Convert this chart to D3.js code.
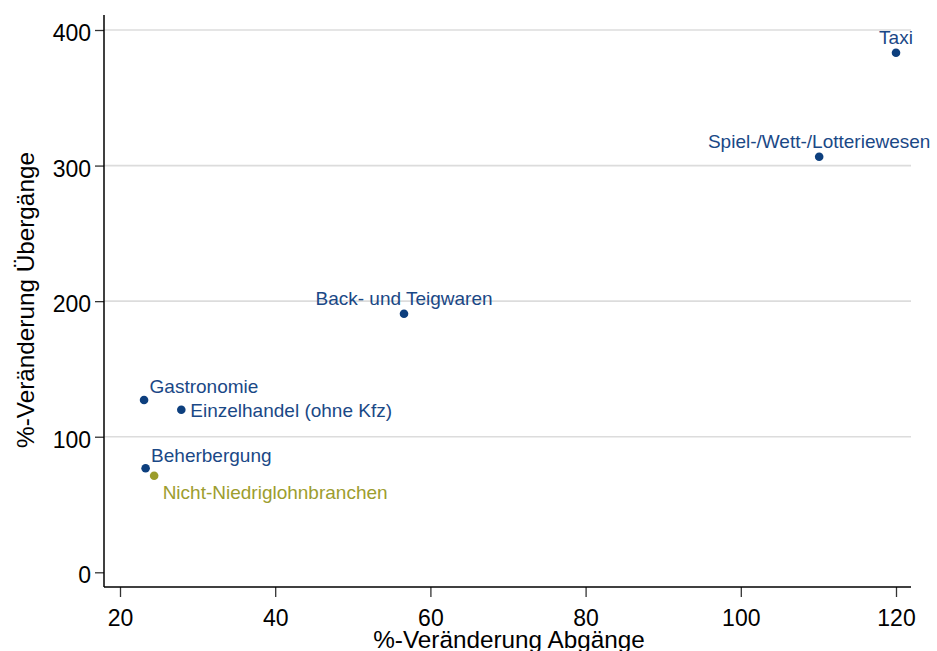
<!DOCTYPE html>
<html>
<head>
<meta charset="utf-8">
<script src="https://cdn.jsdelivr.net/npm/d3@7"></script>
<style>
  html, body { margin: 0; padding: 0; background: #fff; }
  svg { display: block; font-family: "Liberation Sans", Arial, sans-serif; }
</style>
</head>
<body>
<svg id="chart" width="937" height="651"></svg>
<script>
// Branches and their % change in exits (Abgänge) and transitions (Übergänge)
const branches = ["Taxi", "Spiel-/Wett-/Lotteriewesen", "Back- und Teigwaren", "Gastronomie",
                  "Einzelhandel (ohne Kfz)", "Beherbergung", "Nicht-Niedriglohnbranchen"];
const abgaenge   = [120.0, 110.1, 56.6, 23.1, 27.9, 23.3, 24.4];
const uebergaenge = [383.2, 306.5, 190.7, 127.1, 119.9, 76.7, 71.2];
const group = ["low", "low", "low", "low", "low", "low", "ref"];
// label placement for each branch
const labelPos = ["top", "top", "top", "upright", "right", "upright", "downright"];

const xTicks = [20, 40, 60, 80, 100, 120];
const yTicks = [0, 100, 200, 300, 400];
const gridTicks = [100, 200, 300, 400];

const colors = { low: "#0d3f7e", ref: "#9b9c2a" };
const textColors = { low: "#1a4886", ref: "#9d9d2e" };

const svg = d3.select("#chart");
const plot = { left: 104, right: 911, top: 15, bottom: 587 };

const x = d3.scaleLinear().domain([20, 120]).range([120, 896]);
const y = d3.scaleLinear().domain([0, 400]).range([572.3, 30]);

// horizontal grid
svg.append("g").selectAll("line").data(gridTicks).join("line")
  .attr("x1", plot.left).attr("x2", plot.right)
  .attr("y1", d => y(d)).attr("y2", d => y(d))
  .attr("stroke", "#dcdcdc").attr("stroke-width", 1.6);

// axes
const xAxis = svg.append("g").attr("transform", `translate(0,${plot.bottom})`)
  .call(d3.axisBottom(x).tickValues(xTicks).tickSize(10).tickPadding(6).tickFormat(d3.format("d")));
const yAxis = svg.append("g").attr("transform", `translate(${plot.left},0)`)
  .call(d3.axisLeft(y).tickValues(yTicks).tickSize(9).tickPadding(5).tickFormat(d3.format("d")));

[xAxis, yAxis].forEach(g => {
  g.select(".domain").remove();
  g.selectAll(".tick line").attr("stroke", "#333").attr("stroke-width", 1.3);
  g.selectAll(".tick text").attr("fill", "#000").attr("font-size", 23)
    .attr("font-family", "'Liberation Sans', Arial, sans-serif");
});
xAxis.selectAll(".tick text").attr("dy", null).attr("y", 39);
yAxis.selectAll(".tick text").attr("dy", null).attr("y", 10.5).attr("x", -13);

// axis lines
svg.append("line").attr("x1", plot.left).attr("x2", plot.left)
  .attr("y1", plot.top).attr("y2", plot.bottom).attr("stroke", "#000").attr("stroke-width", 1.5);
svg.append("line").attr("x1", plot.left).attr("x2", plot.right)
  .attr("y1", plot.bottom).attr("y2", plot.bottom).attr("stroke", "#000").attr("stroke-width", 1.5);

// axis titles
svg.append("text").attr("x", (plot.left + plot.right) / 2 + 1.5).attr("y", 648)
  .attr("text-anchor", "middle").attr("font-size", 24.3).attr("fill", "#000")
  .text("%-Veränderung Abgänge");
svg.append("text").attr("transform", `translate(34,${(plot.top + plot.bottom) / 2 - 1}) rotate(-90)`)
  .attr("text-anchor", "middle").attr("font-size", 24.3).attr("fill", "#000")
  .text("%-Veränderung Übergänge");

// points
const data = branches.map((b, i) => ({
  name: b, x: abgaenge[i], y: uebergaenge[i], g: group[i], pos: labelPos[i]
}));

svg.append("g").selectAll("circle").data(data).join("circle")
  .attr("cx", d => x(d.x)).attr("cy", d => y(d.y)).attr("r", 4.3)
  .attr("fill", d => colors[d.g]);

// marker labels
const offsets = {
  top:       { dx: 0,   dy: -8.5, anchor: "middle" },
  upright:   { dx: 5.5, dy: -6.5, anchor: "start" },
  right:     { dx: 9,   dy: 7.5,  anchor: "start" },
  downright: { dx: 8.5, dy: 22.8, anchor: "start" }
};
svg.append("g").selectAll("text").data(data).join("text")
  .attr("x", d => x(d.x) + offsets[d.pos].dx)
  .attr("y", d => y(d.y) + offsets[d.pos].dy)
  .attr("text-anchor", d => offsets[d.pos].anchor)
  .attr("font-size", 19)
  .attr("fill", d => textColors[d.g])
  .text(d => d.name);
</script>
</body>
</html>
